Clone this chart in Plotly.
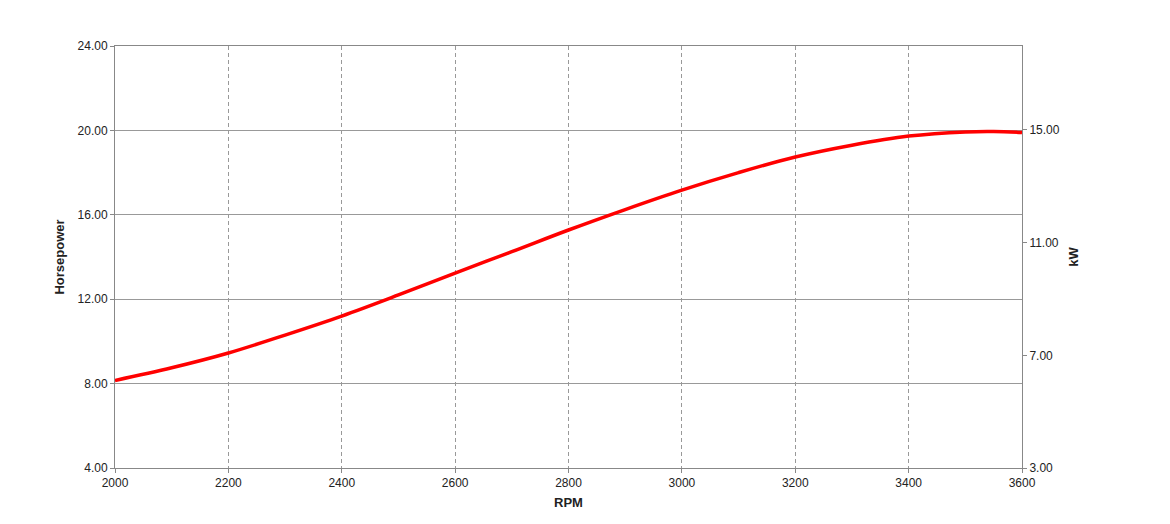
import plotly.graph_objects as go

rpm = [2000, 2100, 2200, 2300, 2400, 2500, 2600, 2700, 2800, 2900, 3000, 3100, 3200, 3300, 3400, 3500, 3550, 3600]
hp = [8.15, 8.75, 9.45, 10.3, 11.2, 12.2, 13.24, 14.25, 15.28, 16.25, 17.17, 18.0, 18.74, 19.3, 19.73, 19.93, 19.95, 19.9]
hp_ticks = [4, 8, 12, 16, 20, 24]
kw_ticks = [3, 7, 11, 15]

fig = go.Figure()
fig.add_trace(go.Scatter(x=rpm, y=hp, mode="lines", line=dict(color="#ff0000", width=3.5, shape="spline"), showlegend=False))
fig.add_trace(go.Scatter(x=[rpm[0]], y=[kw_ticks[0]], yaxis="y2", mode="markers", marker=dict(opacity=0), showlegend=False, hoverinfo="skip"))

font = dict(family="Liberation Sans, Arial", size=12, color="#222")
fig.update_layout(
    width=1170, height=524, plot_bgcolor="white", paper_bgcolor="white",
    margin=dict(l=107, r=156, t=38, b=64), font=font,
    xaxis=dict(range=[2000, 3600], tickvals=list(range(2000, 3601, 200)), showgrid=True,
               gridcolor="#999", griddash="4px,3px", gridwidth=1, showline=True, linecolor="#888", mirror=True,
               ticks="outside", ticklen=4, tickcolor="#888",
               title=dict(text="<b>RPM</b>", standoff=8, font=dict(size=13))),
    yaxis=dict(range=[4, 24], tickvals=hp_ticks, tickformat=".2f", showgrid=True, gridcolor="#999",
               showline=True, linecolor="#888", ticks="outside", ticklen=4, tickcolor="#888",
               title=dict(text="<b>Horsepower</b>", standoff=10, font=dict(size=13))),
    yaxis2=dict(range=[3, 17.98], tickvals=kw_ticks, tickformat=".2f", overlaying="y", side="right",
                showgrid=False, showline=True, linecolor="#888", ticks="outside", ticklen=4, tickcolor="#888",
                title=dict(text="<b>kW</b>", standoff=10, font=dict(size=13))),
)
fig.write_html("out.html")
